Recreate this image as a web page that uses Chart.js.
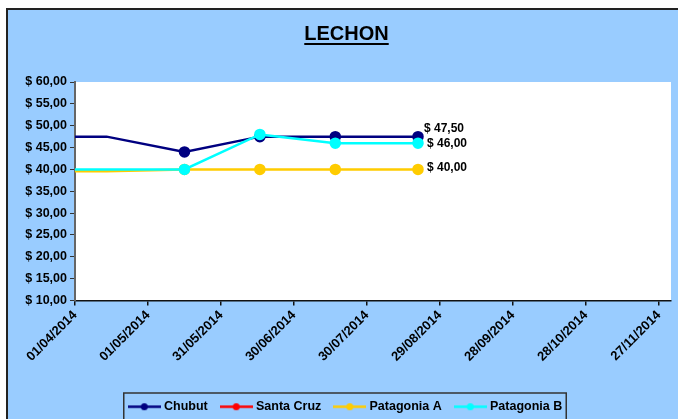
<!DOCTYPE html>
<html>
<head>
<meta charset="utf-8">
<script src="https://cdn.jsdelivr.net/npm/chart.js@4.4.1/dist/chart.umd.min.js"></script>
<style>
  html, body { margin: 0; padding: 0; background: #ffffff; }
  #grafico { display: block; }
</style>
</head>
<body>
<canvas id="grafico" width="678" height="419"></canvas>
<script>
// datos del grafico
const fechas = ['01/04/2014', '14/04/2014', '16/05/2014', '16/06/2014', '17/07/2014', '20/08/2014'];
const chubut = [47.5, 47.5, 44, 47.5, 47.5, 47.5];
const santaCruz = [];
const patagoniaA = [39.6, 39.6, 40, 40, 40, 40];
const patagoniaB = [40, 40, 40, 48, 46, 46];

// eje x: dias desde el inicio, cada 30 dias
const fechaInicio = '01/04/2014';
const diasEje = 245;
const pasoDias = 30;

const DIA = 86400000;
function parseFecha(txt) {
    const p = txt.split('/');
    return Date.UTC(+p[2], +p[1] - 1, +p[0]);
}
const base = parseFecha(fechaInicio);
const xs = fechas.map(f => Math.round((parseFecha(f) - base) / DIA));

function serie(valores) {
    return valores.map((v, i) => ({ x: xs[i], y: v }));
}

function formatoPesos(v) {
    return '$ ' + v.toFixed(2).replace('.', ',');
}

function formatoFecha(d) {
    const f = new Date(base + d * DIA);
    const dd = String(f.getUTCDate()).padStart(2, '0');
    const mm = String(f.getUTCMonth() + 1).padStart(2, '0');
    return dd + '/' + mm + '/' + f.getUTCFullYear();
}

// icono de leyenda estilo excel: linea con punto al medio
function iconoLeyenda(color) {
    const c = document.createElement('canvas');
    c.width = 33;
    c.height = 9;
    const ctx = c.getContext('2d');
    ctx.strokeStyle = color;
    ctx.lineWidth = 2.5;
    ctx.beginPath();
    ctx.moveTo(0, 4.5);
    ctx.lineTo(33, 4.5);
    ctx.stroke();
    ctx.fillStyle = color;
    ctx.beginPath();
    ctx.arc(16.5, 4.5, 3.5, 0, Math.PI * 2);
    ctx.fill();
    return c;
}

const colores = {
    chubut: '#000080',
    santaCruz: '#ff0000',
    patagoniaA: '#ffcc00',
    patagoniaB: '#00ffff'
};

const radios = [0, 0, 4.5, 4.5, 4.5, 4.5];

// desplazamiento de las etiquetas del ultimo punto
const etiquetas = {
    'Chubut': { dx: 6, dy: -8 },
    'Patagonia A': { dx: 9, dy: -2 },
    'Patagonia B': { dx: 9, dy: 1 }
};

function dataset(label, datos, color, orden) {
    return {
        label: label,
        data: serie(datos),
        borderColor: color,
        backgroundColor: color,
        pointBackgroundColor: color,
        pointBorderColor: color,
        pointRadius: radios,
        pointHoverRadius: radios,
        borderWidth: 2.5,
        tension: 0,
        order: orden,
        pointStyle: 'circle'
    };
}

// fondo azul con borde, area blanca
const fondo = {
    id: 'fondo',
    beforeDraw(chart) {
        const ctx = chart.ctx;
        const a = chart.chartArea;
        ctx.save();
        ctx.fillStyle = '#ffffff';
        ctx.fillRect(0, 0, chart.width, chart.height);
        ctx.fillStyle = '#99ccff';
        ctx.fillRect(6, 8, chart.width - 6, chart.height - 8);
        ctx.strokeStyle = '#222222';
        ctx.lineWidth = 2;
        ctx.beginPath();
        ctx.moveTo(7, chart.height);
        ctx.lineTo(7, 9);
        ctx.lineTo(chart.width, 9);
        ctx.stroke();
        ctx.fillStyle = '#ffffff';
        ctx.fillRect(a.left, a.top, a.right - a.left, a.bottom - a.top);
        ctx.restore();
    },
    afterDraw(chart) {
        const ctx = chart.ctx;
        // subrayado del titulo
        const t = chart.titleBlock;
        if (t) {
            ctx.save();
            ctx.font = 'bold 20px "Liberation Sans", Arial, sans-serif';
            const w = ctx.measureText(t.options.text).width;
            const cx = (t.left + t.right) / 2;
            const cy = t.top + t.options.padding.top + 12;
            ctx.fillStyle = '#000000';
            ctx.fillRect(cx - w / 2, cy + 9, w, 2);
            ctx.restore();
        }
        // recuadro de la leyenda
        const hb = chart.legend.legendHitBoxes;
        if (hb && hb.length) {
            const first = hb[0];
            const last = hb[hb.length - 1];
            ctx.save();
            ctx.strokeStyle = '#333333';
            ctx.lineWidth = 1.5;
            ctx.strokeRect(first.left - 7, 393, last.left + last.width - first.left + 11, 40);
            ctx.restore();
        }
    }
};

// etiquetas de valor en el ultimo punto
const valores = {
    id: 'valores',
    afterDatasetsDraw(chart) {
        const ctx = chart.ctx;
        ctx.save();
        ctx.font = 'bold 12px "Liberation Sans", Arial, sans-serif';
        ctx.fillStyle = '#000000';
        ctx.textBaseline = 'middle';
        ctx.textAlign = 'left';
        chart.data.datasets.forEach((ds, i) => {
            const off = etiquetas[ds.label];
            if (!off || !ds.data.length) return;
            const meta = chart.getDatasetMeta(i);
            const pt = meta.data[meta.data.length - 1];
            const v = ds.data[ds.data.length - 1].y;
            ctx.fillText(formatoPesos(v), pt.x + off.dx, pt.y + off.dy);
        });
        ctx.restore();
    }
};

const fuente = '"Liberation Sans", Arial, sans-serif';

new Chart(document.getElementById('grafico'), {
    type: 'line',
    data: {
        datasets: [
            dataset('Chubut', chubut, colores.chubut, 4),
            dataset('Santa Cruz', santaCruz, colores.santaCruz, 3),
            dataset('Patagonia A', patagoniaA, colores.patagoniaA, 2),
            dataset('Patagonia B', patagoniaB, colores.patagoniaB, 1)
        ]
    },
    options: {
        responsive: false,
        devicePixelRatio: 1,
        animation: false,
        layout: {
            padding: { left: 22, right: 7, top: 0, bottom: -4 }
        },
        scales: {
            x: {
                type: 'linear',
                min: 0,
                max: diasEje,
                afterFit(scale) { scale.height = 85; },
                border: { color: '#111111', width: 1.5 },
                grid: { drawOnChartArea: false, drawTicks: true, tickLength: 5, color: '#111111', lineWidth: 1.5 },
                ticks: {
                    stepSize: pasoDias,
                    includeBounds: false,
                    autoSkip: false,
                    maxRotation: 45,
                    minRotation: 45,
                    padding: 2,
                    color: '#000000',
                    font: { family: fuente, size: 13, weight: 'bold' },
                    callback: (v) => formatoFecha(v)
                }
            },
            y: {
                min: 10,
                max: 60,
                afterFit(scale) { scale.width = 53; },
                border: { color: '#666666', width: 2 },
                grid: { drawOnChartArea: false, drawTicks: true, tickLength: 5, color: '#333333' },
                ticks: {
                    stepSize: 5,
                    padding: 3,
                    color: '#000000',
                    font: { family: fuente, size: 12.5, weight: 'bold' },
                    callback: (v) => formatoPesos(v)
                }
            }
        },
        plugins: {
            title: {
                display: true,
                text: 'LECHON',
                color: '#000000',
                font: { family: fuente, size: 20, weight: 'bold' },
                padding: { top: 22, bottom: 36 }
            },
            legend: {
                display: true,
                position: 'bottom',
                reverse: true,
                labels: {
                    usePointStyle: true,
                    pointStyleWidth: 27,
                    padding: 15,
                    color: '#000000',
                    font: { family: fuente, size: 12.5, weight: 'bold' },
                    generateLabels(chart) {
                        return chart.data.datasets.map((ds, i) => ({
                            text: ds.label,
                            fillStyle: ds.borderColor,
                            strokeStyle: ds.borderColor,
                            lineWidth: 0,
                            pointStyle: iconoLeyenda(ds.borderColor),
                            hidden: false,
                            datasetIndex: i,
                            fontColor: '#000000'
                        })).reverse();
                    }
                }
            },
            tooltip: { enabled: false }
        }
    },
    plugins: [fondo, valores]
});
</script>
</body>
</html>
